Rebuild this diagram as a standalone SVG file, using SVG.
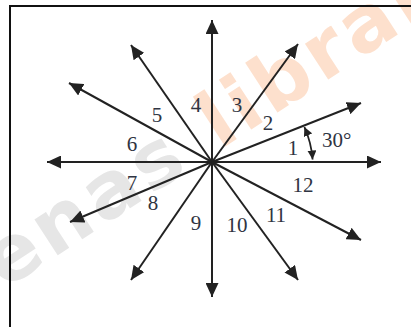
<svg xmlns="http://www.w3.org/2000/svg" width="411" height="327" viewBox="0 0 411 327">
  <style>
    .ray { stroke: #222; stroke-width: 2; fill: none; marker-end: url(#head); }
    .lbl { font-family: "Liberation Serif", "Times New Roman", serif; font-size: 21px; fill: #2f3442; text-anchor: middle; }
    .wm { font-family: "DejaVu Sans", sans-serif; font-weight: bold; font-size: 78px; letter-spacing: 4.5px; }
  </style>
  <defs>
    <marker id="head" markerUnits="userSpaceOnUse" markerWidth="15" markerHeight="13" refX="14" refY="6.5" orient="auto">
      <path d="M0,0 L14,6.5 L0,13 z" fill="#222"/>
    </marker>
    <marker id="small" markerUnits="userSpaceOnUse" markerWidth="10" markerHeight="9" refX="9" refY="4.5" orient="auto-start-reverse">
      <path d="M0,0 L9,4.5 L0,9 z" fill="#222"/>
    </marker>
  </defs>
  <rect width="411" height="327" fill="#fff"/>
  <g id="watermark">
    <text class="wm" transform="translate(4,290) rotate(-33)"><tspan fill="#e6e6e6">enas</tspan><tspan fill="#fde0cd"> library</tspan></text>
  </g>
  <g id="frame">
    <rect x="10" y="6" width="430" height="360" fill="none" stroke="#111" stroke-width="2"/>
  </g>
  <g id="connectors">
    <line class="ray" x1="212" y1="162" x2="381" y2="162"/>
    <line class="ray" x1="212" y1="162" x2="361" y2="103"/>
    <line class="ray" x1="212" y1="162" x2="298" y2="44"/>
    <line class="ray" x1="212" y1="162" x2="212" y2="20"/>
    <line class="ray" x1="212" y1="162" x2="131" y2="45"/>
    <line class="ray" x1="212" y1="162" x2="69" y2="83"/>
    <line class="ray" x1="212" y1="162" x2="47" y2="162"/>
    <line class="ray" x1="212" y1="162" x2="70" y2="222"/>
    <line class="ray" x1="212" y1="162" x2="131" y2="280"/>
    <line class="ray" x1="212" y1="162" x2="212" y2="297"/>
    <line class="ray" x1="212" y1="162" x2="298" y2="280"/>
    <line class="ray" x1="212" y1="162" x2="361" y2="240"/>
  </g>
  <g id="angle">
    <path d="M304.4,127 A 98 98 0 0 1 312.6,159.5" fill="none" stroke="#222" stroke-width="1.8" marker-start="url(#small)" marker-end="url(#small)"/>
    <text class="lbl" x="322" y="147" style="text-anchor:start">30°</text>
  </g>
  <g id="labels">
    <text class="lbl" x="293" y="155">1</text>
    <text class="lbl" x="268" y="129.5">2</text>
    <text class="lbl" x="237" y="111.5">3</text>
    <text class="lbl" x="196" y="111.5">4</text>
    <text class="lbl" x="157" y="121.5">5</text>
    <text class="lbl" x="132" y="150.5">6</text>
    <text class="lbl" x="132" y="189.5">7</text>
    <text class="lbl" x="153" y="209.5">8</text>
    <text class="lbl" x="196" y="229.5">9</text>
    <text class="lbl" x="237" y="231.5">10</text>
    <text class="lbl" x="276" y="221.5">11</text>
    <text class="lbl" x="303" y="191.5">12</text>
  </g>
</svg>
